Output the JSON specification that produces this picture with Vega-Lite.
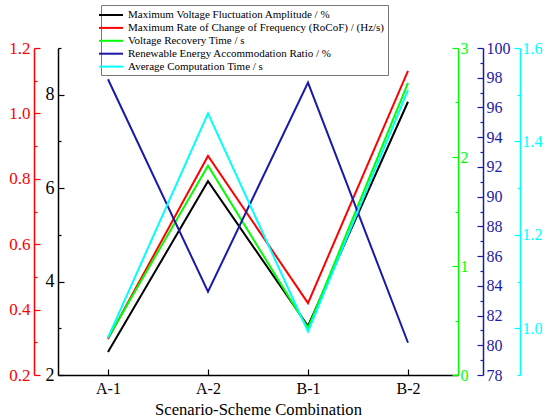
{
  "$schema": "https://vega.github.io/schema/vega-lite/v6.json",
  "width": 400,
  "height": 327,
  "autosize": "none",
  "padding": {"left": 58, "top": 48, "right": 92, "bottom": 44},
  "background": "white",
  "config": {
    "view": {"stroke": null},
    "font": "Liberation Serif",
    "axis": {"grid": false, "labelFont": "Liberation Serif", "titleFont": "Liberation Serif", "domainWidth": 1.5, "tickWidth": 1.2},
    "legend": {"labelFont": "Liberation Serif"}
  },
  "data": {
    "values": [
      {"scheme": "A-1", "metric": "Maximum Voltage Fluctuation Amplitude / %", "value": 2.49},
      {"scheme": "A-2", "metric": "Maximum Voltage Fluctuation Amplitude / %", "value": 6.15},
      {"scheme": "B-1", "metric": "Maximum Voltage Fluctuation Amplitude / %", "value": 3.05},
      {"scheme": "B-2", "metric": "Maximum Voltage Fluctuation Amplitude / %", "value": 7.85},
      {"scheme": "A-1", "metric": "Maximum Rate of Change of Frequency (RoCoF) / (Hz/s)", "value": 0.31},
      {"scheme": "A-2", "metric": "Maximum Rate of Change of Frequency (RoCoF) / (Hz/s)", "value": 0.87},
      {"scheme": "B-1", "metric": "Maximum Rate of Change of Frequency (RoCoF) / (Hz/s)", "value": 0.42},
      {"scheme": "B-2", "metric": "Maximum Rate of Change of Frequency (RoCoF) / (Hz/s)", "value": 1.13},
      {"scheme": "A-1", "metric": "Voltage Recovery Time / s", "value": 0.34},
      {"scheme": "A-2", "metric": "Voltage Recovery Time / s", "value": 1.92},
      {"scheme": "B-1", "metric": "Voltage Recovery Time / s", "value": 0.43},
      {"scheme": "B-2", "metric": "Voltage Recovery Time / s", "value": 2.68},
      {"scheme": "A-1", "metric": "Renewable Energy Accommodation Ratio / %", "value": 97.9},
      {"scheme": "A-2", "metric": "Renewable Energy Accommodation Ratio / %", "value": 83.6},
      {"scheme": "B-1", "metric": "Renewable Energy Accommodation Ratio / %", "value": 97.67},
      {"scheme": "B-2", "metric": "Renewable Energy Accommodation Ratio / %", "value": 80.17},
      {"scheme": "A-1", "metric": "Average Computation Time / s", "value": 0.98},
      {"scheme": "A-2", "metric": "Average Computation Time / s", "value": 1.46},
      {"scheme": "B-1", "metric": "Average Computation Time / s", "value": 0.993},
      {"scheme": "B-2", "metric": "Average Computation Time / s", "value": 1.51}
    ]
  },
  "resolve": {"scale": {"y": "independent"}, "axis": {"y": "independent"}},
  "layer": [
    {
      "transform": [{"filter": "datum.metric == 'Maximum Voltage Fluctuation Amplitude / %'"}],
      "mark": {"type": "line", "strokeWidth": 2},
      "encoding": {
        "x": {
          "field": "scheme", "type": "ordinal",
          "scale": {"type": "point", "padding": 0.5},
          "axis": {"title": "Scenario-Scheme Combination", "labelAngle": 0, "labelFontSize": 16, "titleFontSize": 16.6, "titleFontWeight": "normal", "titlePadding": 5, "labelPadding": 11, "tickSize": -6, "domainColor": "black", "tickColor": "black", "labelColor": "black", "titleColor": "black"}
        },
        "y": {
          "field": "value", "type": "quantitative",
          "scale": {"domain": [2, 9], "nice": false, "zero": false},
          "axis": {"orient": "left", "title": null, "values": [2, 3, 4, 5, 6, 7, 8, 9],
            "labelExpr": "datum.value % 2 == 0 ? format(datum.value, 'd') : ''",
            "tickSize": {"condition": {"test": "datum.value % 2 != 0", "value": -3}, "value": -6},
            "labelPadding": 10, "labelFontSize": 18, "domainColor": "black", "tickColor": "black", "labelColor": "black"}
        },
        "color": {
          "field": "metric", "type": "nominal",
          "scale": {
            "domain": ["Maximum Voltage Fluctuation Amplitude / %", "Maximum Rate of Change of Frequency (RoCoF) / (Hz/s)", "Voltage Recovery Time / s", "Renewable Energy Accommodation Ratio / %", "Average Computation Time / s"],
            "range": ["#000000", "#ff0000", "#00ff00", "#1a1aa6", "#00ffff"]
          },
          "legend": {"title": null, "orient": "none", "legendX": 43, "legendY": -43, "symbolType": "M-2,0H2", "symbolSize": 144, "symbolStrokeWidth": 2, "labelFontSize": 11, "labelColor": "black", "rowPadding": 0.9, "padding": 3, "strokeColor": "#777777", "fillColor": "white", "labelOffset": 10, "labelLimit": 400, "offset": 0}
        }
      }
    },
    {
      "transform": [{"filter": "datum.metric == 'Maximum Rate of Change of Frequency (RoCoF) / (Hz/s)'"}],
      "mark": {"type": "line", "strokeWidth": 2},
      "encoding": {
        "x": {"field": "scheme", "type": "ordinal", "scale": {"type": "point", "padding": 0.5}},
        "y": {
          "field": "value", "type": "quantitative",
          "scale": {"domain": [0.2, 1.2], "nice": false, "zero": false},
          "axis": {"orient": "left", "offset": 24, "title": null, "values": [0.2, 0.3, 0.4, 0.5, 0.6, 0.7, 0.8, 0.9, 1.0, 1.1, 1.2],
            "labelExpr": "round(datum.value * 10) % 2 == 0 ? format(datum.value, '.1f') : ''",
            "tickSize": {"condition": {"test": "round(datum.value * 10) % 2 != 0", "value": -3}, "value": -6},
            "labelPadding": 10, "labelFontSize": 17, "domainColor": "#ff0000", "tickColor": "#ff0000", "labelColor": "#ff0000"}
        },
        "color": {"field": "metric", "type": "nominal"}
      }
    },
    {
      "transform": [{"filter": "datum.metric == 'Voltage Recovery Time / s'"}],
      "mark": {"type": "line", "strokeWidth": 2},
      "encoding": {
        "x": {"field": "scheme", "type": "ordinal", "scale": {"type": "point", "padding": 0.5}},
        "y": {
          "field": "value", "type": "quantitative",
          "scale": {"domain": [0, 3], "nice": false},
          "axis": {"orient": "right", "title": null, "values": [0, 0.5, 1, 1.5, 2, 2.5, 3],
            "labelExpr": "datum.value % 1 == 0 ? format(datum.value, 'd') : ''",
            "tickSize": {"condition": {"test": "datum.value % 1 != 0", "value": -3}, "value": -6},
            "labelPadding": 8, "labelFontSize": 16, "domainColor": "#00ff00", "tickColor": "#00ff00", "labelColor": "#00ff00"}
        },
        "color": {"field": "metric", "type": "nominal"}
      }
    },
    {
      "transform": [{"filter": "datum.metric == 'Renewable Energy Accommodation Ratio / %'"}],
      "mark": {"type": "line", "strokeWidth": 2},
      "encoding": {
        "x": {"field": "scheme", "type": "ordinal", "scale": {"type": "point", "padding": 0.5}},
        "y": {
          "field": "value", "type": "quantitative",
          "scale": {"domain": [78, 100], "nice": false, "zero": false},
          "axis": {"orient": "right", "offset": 25, "title": null, "values": [78, 79, 80, 81, 82, 83, 84, 85, 86, 87, 88, 89, 90, 91, 92, 93, 94, 95, 96, 97, 98, 99, 100],
            "labelExpr": "datum.value % 2 == 0 ? format(datum.value, 'd') : ''",
            "tickSize": {"condition": {"test": "datum.value % 2 != 0", "value": -3}, "value": -6},
            "labelPadding": 9, "labelFontSize": 16, "domainColor": "#1a1aa6", "tickColor": "#1a1aa6", "labelColor": "#1a1aa6"}
        },
        "color": {"field": "metric", "type": "nominal"}
      }
    },
    {
      "transform": [{"filter": "datum.metric == 'Average Computation Time / s'"}],
      "mark": {"type": "line", "strokeWidth": 2},
      "encoding": {
        "x": {"field": "scheme", "type": "ordinal", "scale": {"type": "point", "padding": 0.5}},
        "y": {
          "field": "value", "type": "quantitative",
          "scale": {"domain": [0.9, 1.6], "nice": false, "zero": false},
          "axis": {"orient": "right", "offset": 62, "title": null, "values": [0.9, 1.0, 1.1, 1.2, 1.3, 1.4, 1.5, 1.6],
            "labelExpr": "round(datum.value * 10) % 2 == 0 ? format(datum.value, '.1f') : ''",
            "tickSize": {"condition": {"test": "round(datum.value * 10) % 2 != 0", "value": -3}, "value": -6},
            "labelPadding": 8, "labelFontSize": 16, "domainColor": "#00ffff", "tickColor": "#00ffff", "labelColor": "#00ffff"}
        },
        "color": {"field": "metric", "type": "nominal"}
      }
    }
  ]
}
